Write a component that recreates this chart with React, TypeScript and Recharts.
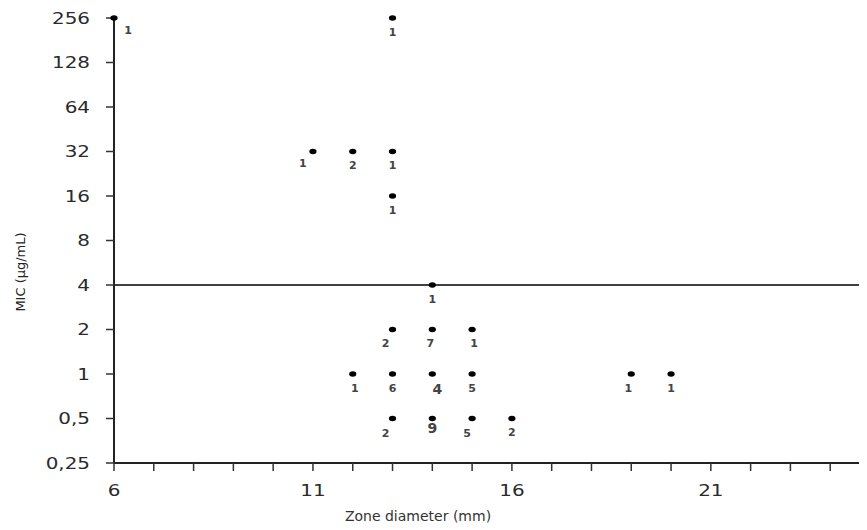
import { ScatterChart, Scatter, XAxis, YAxis, ReferenceLine } from 'recharts'

// zone diameter (mm), MIC (µg/mL), number of isolates
const diameters = [6, 13, 11, 12, 13, 13, 14, 13, 14, 15, 12, 13, 14, 15, 19, 20, 13, 14, 15, 16]
const mics = [256, 256, 32, 32, 32, 16, 4, 2, 2, 2, 1, 1, 1, 1, 1, 1, 0.5, 0.5, 0.5, 0.5]
const counts = [1, 1, 1, 2, 1, 1, 1, 2, 7, 1, 1, 6, 4, 5, 1, 1, 2, 9, 5, 2]

const xTicks = [6, 7, 8, 9, 10, 11, 12, 13, 14, 15, 16, 17, 18, 19, 20, 21, 22, 23, 24, 25]
const xLabeled = [6, 11, 16, 21]
const yTicks = [0.25, 0.5, 1, 2, 4, 8, 16, 32, 64, 128, 256]
const breakpoint = 4

// small nudges for the count labels (dx, dy, size)
const labelNudge: Record<number, [number, number, number]> = {
  0: [14, -2, 11],
  2: [-10, -2, 11],
  7: [-7, 0, 11],
  8: [-2, 0, 11],
  9: [2, 0, 11],
  10: [2, 0, 11],
  12: [5, 1, 14],
  14: [-3, 0, 11],
  16: [-7, 1, 11],
  17: [0, -5, 14],
  18: [-5, 1, 11],
}

const data = diameters.map((d, i) => ({ x: d, y: mics[i], n: counts[i], i }))

const font = '"DejaVu Sans", Verdana, sans-serif'

const YTick = ({ x, y, payload }: any) => (
  <g transform={`translate(${x},${y + 5.5}) scale(1.33,1)`}>
    <text textAnchor="end" fill="#2a2a2a" fontSize={15} fontFamily={font}>
      {String(payload.value).replace('.', ',')}
    </text>
  </g>
)

const XTick = ({ x, y, payload }: any) => {
  if (!xLabeled.includes(payload.value)) return null
  return (
    <g transform={`translate(${x},${y + 24.5}) scale(1.33,1)`}>
      <text textAnchor="middle" fill="#2a2a2a" fontSize={15} fontFamily={font}>
        {payload.value}
      </text>
    </g>
  )
}

const Dot = (props: any) => {
  const { cx, cy, payload } = props
  const [dx, dy, size] = labelNudge[payload.i] || [0, 0, 11]
  return (
    <g>
      <ellipse cx={cx} cy={cy} rx={3.6} ry={2.7} fill="#000" />
      <text
        x={cx + dx}
        y={cy + 14 + dy}
        textAnchor="middle"
        dominantBaseline="central"
        fontSize={size}
        fontWeight="bold"
        fill="#444"
        fontFamily={font}
      >
        {payload.n}
      </text>
    </g>
  )
}

export default function App() {
  return (
    <div style={{ width: 859, height: 522, overflow: 'hidden' }}>
      <ScatterChart width={870} height={522} margin={{ top: 10, right: 8, bottom: 27, left: 0 }}>
        <XAxis
          type="number"
          dataKey="x"
          domain={[6, 25]}
          ticks={xTicks}
          interval={0}
          tickSize={8}
          tickMargin={0}
          tick={<XTick />}
          height={40}
          axisLine={{ stroke: '#222', strokeWidth: 2 }}
          tickLine={{ stroke: '#333', strokeWidth: 1.5 }}
        />
        <YAxis
          type="number"
          dataKey="y"
          scale="log"
          domain={[0.25, 256]}
          ticks={yTicks}
          interval={0}
          width={106}
          tickSize={8}
          tickMargin={16}
          tick={<YTick />}
          axisLine={{ stroke: '#222', strokeWidth: 2 }}
          tickLine={{ stroke: '#333', strokeWidth: 1.5 }}
        />
        <ReferenceLine y={breakpoint} stroke="#000" strokeWidth={1.3} />
        <Scatter data={data} shape={<Dot />} isAnimationActive={false} />
        <text x={410} y={513} textAnchor="middle" fontSize={14} fill="#333" fontFamily={font}>
          Zone diameter (mm)
        </text>
        <text
          x={12}
          y={264}
          textAnchor="middle"
          dominantBaseline="central"
          fontSize={13}
          fill="#222"
          fontFamily={font}
          transform="rotate(-90 12 264)"
        >
          MIC (µg/mL)
        </text>
      </ScatterChart>
    </div>
  )
}
